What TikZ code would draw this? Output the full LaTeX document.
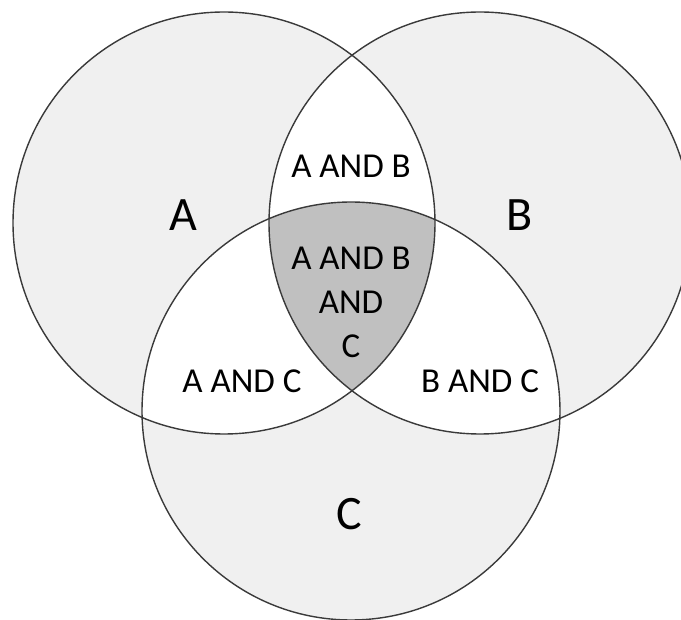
\documentclass[tikz,border=0pt]{standalone}
\usepackage{fontspec}
\setmainfont{Carlito}
\definecolor{setfill}{HTML}{F0F0F0}
\definecolor{corefill}{HTML}{C0C0C0}
\definecolor{edge}{HTML}{3A3A3A}
\begin{document}
\begin{tikzpicture}[x=1pt,y=-1pt,
  ring/.style={draw=edge,line width=1.4pt},
  small/.style={font=\fontsize{35}{44}\selectfont,align=center,inner sep=0pt},
  big/.style={font=\fontsize{48}{50}\selectfont,inner sep=0pt}]
\useasboundingbox (0,0) rectangle (681,620);
\coordinate (ca) at (224,223);
\coordinate (cb) at (480,223);
\coordinate (cc) at (351,411);
% base fills
\fill[setfill] (ca) circle (211pt);
\fill[setfill] (cb) circle (211pt);
\fill[setfill] (cc) circle (209pt);
% pairwise intersections white
\begin{scope}
  \clip (ca) circle (211pt);
  \fill[white] (cb) circle (211pt);
  \fill[white] (cc) circle (209pt);
\end{scope}
\begin{scope}
  \clip (cb) circle (211pt);
  \fill[white] (cc) circle (209pt);
\end{scope}
% triple intersection
\begin{scope}
  \clip (ca) circle (211pt);
  \clip (cb) circle (211pt);
  \fill[corefill] (cc) circle (209pt);
\end{scope}
% outlines
\draw[ring] (ca) circle (211pt);
\draw[ring] (cb) circle (211pt);
\draw[ring] (cc) circle (209pt);
% labels
\node[big] (la) at (183,215) {A};
\node[big] (lb) at (520,215) {B};
\node[big] (lc) at (349,514) {C};
\node[small] (ab) at (351,166) {A AND B};
\node[small] (abc) at (351,302) {A AND B\\AND\\C};
\node[small] (ac) at (242,381) {A AND C};
\node[small] (bc) at (480,381) {B AND C};
\end{tikzpicture}
\end{document}
